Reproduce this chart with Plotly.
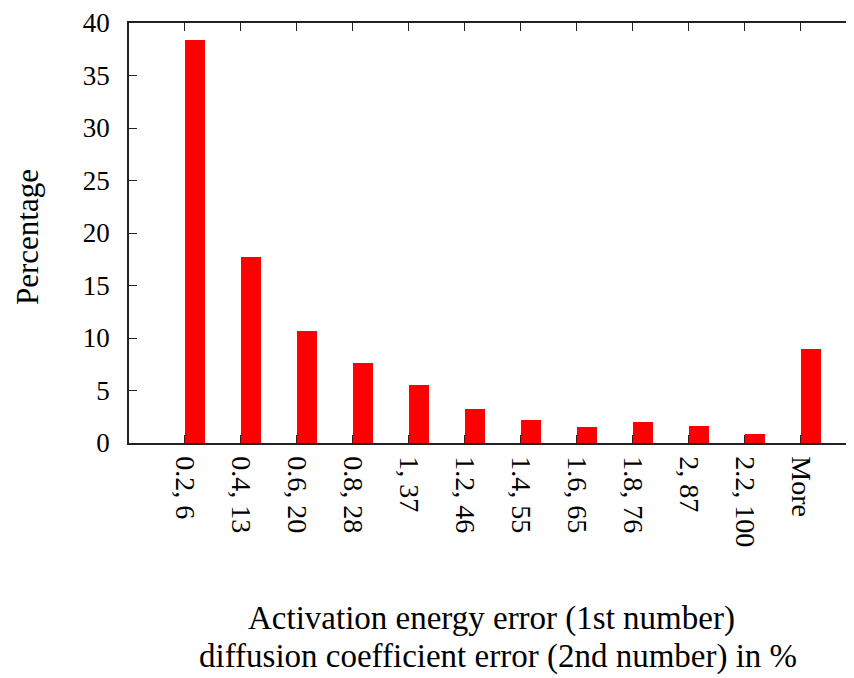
import plotly.graph_objects as go

categories = ["0.2, 6", "0.4, 13", "0.6, 20", "0.8, 28", "1, 37", "1.2, 46",
              "1.4, 55", "1.6, 65", "1.8, 76", "2, 87", "2.2, 100", "More"]
percentages = [38.4, 17.7, 10.7, 7.6, 5.5, 3.2, 2.2, 1.5, 2.0, 1.6, 0.9, 9.0]
y_ticks = [0, 5, 10, 15, 20, 25, 30, 35, 40]
x_title_lines = ["Activation energy error (1st number)",
                 "diffusion coefficient error (2nd number) in %"]
y_title = "Percentage"

positions = list(range(1, len(categories) + 1))
FONT = "Liberation Serif"

fig = go.Figure()
fig.add_trace(go.Bar(
    x=positions, y=percentages, offset=0, width=0.357,
    marker=dict(color="#ff0000", line=dict(width=0)),
    showlegend=False,
))

axis_common = dict(showgrid=False, zeroline=False, ticks="inside", ticklen=8,
                   tickwidth=1.2, tickcolor="#222", linecolor="#222", linewidth=1.5,
                   layer="below traces", ticklabeloverflow="allow")

fig.update_layout(
    width=846, height=670,
    margin=dict(l=121, r=0, t=13, b=234.5),
    plot_bgcolor="white", paper_bgcolor="white",
    font=dict(family=FONT, size=27, color="black"),
    bargap=0,
    xaxis=dict(range=[0, len(categories) + 0.95], tickvals=positions, ticktext=categories,
               tickangle=90, showline=True, mirror="ticks", ticklabelstandoff=6,
               tickfont=dict(family=FONT, size=28), **axis_common),
    yaxis=dict(range=[0, 40], tickvals=y_ticks, showline=True, mirror=False,
               ticklabelstandoff=12, tickfont=dict(family=FONT, size=27), **axis_common),
    yaxis2=dict(range=[0, 40], tickvals=y_ticks, overlaying="y", side="right",
                showticklabels=False, showline=False, showgrid=False, zeroline=False,
                ticks="inside", ticklen=8, tickwidth=1.2, tickcolor="#222"),
    annotations=[
        dict(text=x_title_lines[0], xref="paper", yref="paper", x=0.5, y=-0.417,
             xanchor="center", yanchor="middle", showarrow=False,
             font=dict(family=FONT, size=33)),
        dict(text=x_title_lines[1], xref="paper", yref="paper", x=0.509, y=-0.5089,
             xanchor="center", yanchor="middle", showarrow=False,
             font=dict(family=FONT, size=33)),
        dict(text=y_title, xref="paper", yref="paper", x=-0.139, y=0.491,
             textangle=-90, xanchor="center", yanchor="middle", showarrow=False,
             font=dict(family=FONT, size=31)),
    ],
)

fig.write_html("out.html")
